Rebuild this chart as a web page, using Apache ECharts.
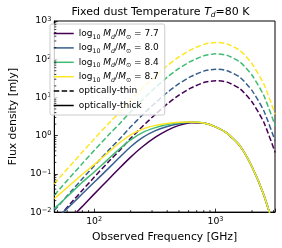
<!DOCTYPE html>
<html><head><meta charset="utf-8">
<script src="https://cdn.jsdelivr.net/npm/echarts@6/dist/echarts.min.js"></script>
<style>html,body{margin:0;padding:0;background:#fff}#c{width:282px;height:248px}</style>
</head><body><div id="c"></div>
<script>
// Observed frequency grid [GHz]
const freqGHz = [47, 55, 65, 80, 100, 130, 163, 200, 250, 320, 400, 500, 630, 800, 1000, 1250, 1600, 2000, 2500, 3100];

// optically-thin flux densities [mJy]
const thin77 = [0.0055, 0.00977, 0.0178, 0.0372, 0.0813, 0.200, 0.417, 0.851, 1.74, 3.63, 6.76, 11.5, 17.8, 24.5, 27.5, 25.1, 16.6, 7.59, 2.24, 0.363];
const thin80 = [0.0110, 0.0195, 0.0355, 0.0742, 0.162, 0.399, 0.832, 1.70, 3.47, 7.24, 13.5, 22.9, 35.5, 48.9, 54.9, 50.1, 33.1, 15.1, 4.47, 0.724];
const thin84 = [0.0276, 0.0490, 0.0892, 0.186, 0.407, 1.00, 2.09, 4.26, 8.72, 18.2, 33.9, 57.6, 89.2, 123, 138, 126, 83.2, 38.0, 11.2, 1.82];
const thin87 = [0.0550, 0.0977, 0.178, 0.372, 0.813, 2.00, 4.17, 8.51, 17.4, 36.3, 67.6, 115, 178, 245, 275, 251, 166, 75.9, 22.4, 3.63];

// optically-thick flux densities [mJy]
const thick77 = [0.00257, 0.00427, 0.00724, 0.0141, 0.0295, 0.0692, 0.145, 0.275, 0.513, 0.912, 1.38, 1.86, 2.19, 2.14, 1.70, 1.15, 0.525, 0.151, 0.0282, 0.00316];
const thick80 = [0.00575, 0.00955, 0.0158, 0.0302, 0.0603, 0.135, 0.275, 0.513, 0.891, 1.35, 1.74, 2.04, 2.24, 2.14, 1.70, 1.15, 0.525, 0.151, 0.0282, 0.00316];
const thick84 = [0.0123, 0.0195, 0.0324, 0.0603, 0.112, 0.240, 0.457, 0.776, 1.20, 1.62, 1.95, 2.19, 2.29, 2.14, 1.70, 1.15, 0.525, 0.151, 0.0282, 0.00316];
const thick87 = [0.0224, 0.0347, 0.0550, 0.0977, 0.174, 0.355, 0.661, 1.05, 1.48, 1.86, 2.09, 2.24, 2.29, 2.14, 1.70, 1.15, 0.525, 0.151, 0.0282, 0.00316];

const massLabels = ['7.7', '8.0', '8.4', '8.7'];
const colors = ['#440154', '#355f8d', '#3fbc73', '#fde725'];
const thinSets = [thin77, thin80, thin84, thin87];
const thickSets = [thick77, thick80, thick84, thick87];

const xMin = 47, xMax = 3090, yMin = 0.01, yMax = 1000;
const xMinorTicks = [50, 60, 70, 80, 90, 200, 300, 400, 500, 600, 700, 800, 900, 2000, 3000];
const yMinorTicks = [];
[0.01, 0.1, 1, 10, 100].forEach(d => { for (let k = 2; k <= 9; k++) yMinorTicks.push(+(d * k).toPrecision(3)); });

const FONT = 'DejaVu Sans';
const dashPattern = [5.5, 2.4];

function powLabel(v) {
  const e = Math.round(Math.log10(v));
  if (Math.abs(v - Math.pow(10, e)) / v > 1e-6) return '';
  const s = e < 0 ? '\u2212' + (-e) : '' + e;
  return '10{s|' + s + '}';
}

const series = [];
thinSets.forEach((arr, i) => {
  series.push({
    name: 'thin ' + massLabels[i], type: 'line', symbol: 'none', smooth: 0.2,
    data: freqGHz.map((f, j) => [f, arr[j]]),
    lineStyle: { color: colors[i], width: 1.5, type: dashPattern },
    itemStyle: { color: colors[i] }, z: 2
  });
});
thickSets.forEach((arr, i) => {
  series.push({
    name: 'thick ' + massLabels[i], type: 'line', symbol: 'none', smooth: 0.2,
    data: freqGHz.map((f, j) => [f, arr[j]]),
    lineStyle: { color: colors[i], width: 1.5, type: 'solid' },
    itemStyle: { color: colors[i] }, z: 3
  });
});
series.push({ name: 'optically-thin', type: 'line', symbol: 'none', data: [],
  lineStyle: { color: '#000', width: 1.5, type: dashPattern }, itemStyle: { color: '#000' } });
series.push({ name: 'optically-thick', type: 'line', symbol: 'none', data: [],
  lineStyle: { color: '#000', width: 1.5, type: 'solid' }, itemStyle: { color: '#000' } });
series.push({
  type: 'custom', coordinateSystem: 'cartesian2d', silent: true, z: 6, clip: false,
  data: xMinorTicks.map(f => [f, yMin, 0]).concat(yMinorTicks.map(v => [xMin, v, 1])),
  renderItem(params, api) {
    const p = api.coord([api.value(0), api.value(1)]);
    const horiz = api.value(2) === 1;
    return { type: 'line',
      shape: horiz ? { x1: p[0], y1: p[1], x2: p[0] + 2, y2: p[1] } : { x1: p[0], y1: p[1], x2: p[0], y2: p[1] - 2 },
      style: { stroke: '#000', lineWidth: 0.8 } };
  }
});

const legendNames = massLabels.map(m => 'thick ' + m).concat(['optically-thin', 'optically-thick']);

const chart = echarts.init(document.getElementById('c'), null, { renderer: 'canvas' });
chart.setOption({
  animation: false,
  backgroundColor: '#fff',
  textStyle: { fontFamily: FONT },
  title: {
    text: 'Fixed dust Temperature {i|T}{isub|d}=80 K',
    left: 160.5, top: 5, textAlign: 'center', padding: 0,
    textStyle: { fontFamily: FONT, fontSize: 11, fontWeight: 'normal', color: '#000', lineHeight: 14,
      rich: {
        i: { fontFamily: FONT, fontSize: 11, fontStyle: 'italic', color: '#000', lineHeight: 14 },
        isub: { fontFamily: FONT, fontSize: 7.5, fontStyle: 'italic', color: '#000', lineHeight: 7.5, verticalAlign: 'bottom' }
      } }
  },
  grid: { left: 46, right: 7, top: 21, bottom: 35, show: true, borderColor: '#000', borderWidth: 1, containLabel: false },
  legend: {
    data: legendNames, orient: 'vertical', left: 50, top: 24,
    padding: [3, 6, 3, 3], itemGap: 1.4, itemWidth: 20, itemHeight: 10,
    backgroundColor: 'rgba(255,255,255,0.8)', borderColor: '#cccccc', borderWidth: 1, borderRadius: 2,
    itemStyle: { opacity: 0 },
    lineStyle: { width: 1.5 },
    selectedMode: false,
    formatter(name) {
      if (name.indexOf('thick ') === 0) {
        return 'log{sub|10} {it|M}{itsub|d}/{it|M}{sub|\u2299} = ' + name.slice(6);
      }
      return name;
    },
    textStyle: { fontFamily: FONT, fontSize: 9, color: '#000', lineHeight: 13,
      rich: {
        sub: { fontFamily: FONT, fontSize: 6.3, color: '#000', lineHeight: 6.3, verticalAlign: 'bottom' },
        it: { fontFamily: FONT, fontSize: 9, fontStyle: 'italic', color: '#000', lineHeight: 13 },
        itsub: { fontFamily: FONT, fontSize: 6.3, fontStyle: 'italic', color: '#000', lineHeight: 6.3, verticalAlign: 'bottom' }
      } }
  },
  xAxis: {
    type: 'log', logBase: 10, min: xMin, max: xMax,
    name: 'Observed Frequency [GHz]', nameLocation: 'middle', nameGap: 17,
    nameTextStyle: { fontFamily: FONT, fontSize: 10.8, color: '#000' },
    axisLine: { show: true, lineStyle: { color: '#000', width: 1 } },
    axisTick: { show: true, inside: true, length: 3.5, lineStyle: { color: '#000', width: 0.8 } },
    splitLine: { show: false }, minorTick: { show: false },
    axisLabel: { margin: 4, fontFamily: FONT, fontSize: 9.3, color: '#000', lineHeight: 11, formatter: powLabel,
      showMinLabel: true, showMaxLabel: true, hideOverlap: false,
      rich: { s: { fontFamily: FONT, fontSize: 6.5, color: '#000', lineHeight: 6.5, verticalAlign: 'top' } } }
  },
  yAxis: {
    type: 'log', logBase: 10, min: yMin, max: yMax,
    name: 'Flux density [mJy]', nameLocation: 'middle', nameGap: 31, nameRotate: 90,
    nameTextStyle: { fontFamily: FONT, fontSize: 10.8, color: '#000' },
    axisLine: { show: true, lineStyle: { color: '#000', width: 1 } },
    axisTick: { show: true, inside: true, length: 3.5, lineStyle: { color: '#000', width: 0.8 } },
    splitLine: { show: false }, minorTick: { show: false },
    axisLabel: { margin: 3, fontFamily: FONT, fontSize: 9.3, color: '#000', lineHeight: 11, formatter: powLabel,
      showMinLabel: true, showMaxLabel: true, hideOverlap: false,
      rich: { s: { fontFamily: FONT, fontSize: 6.5, color: '#000', lineHeight: 6.5, verticalAlign: 'top' } } }
  },
  series: series
});
</script>
</body></html>
